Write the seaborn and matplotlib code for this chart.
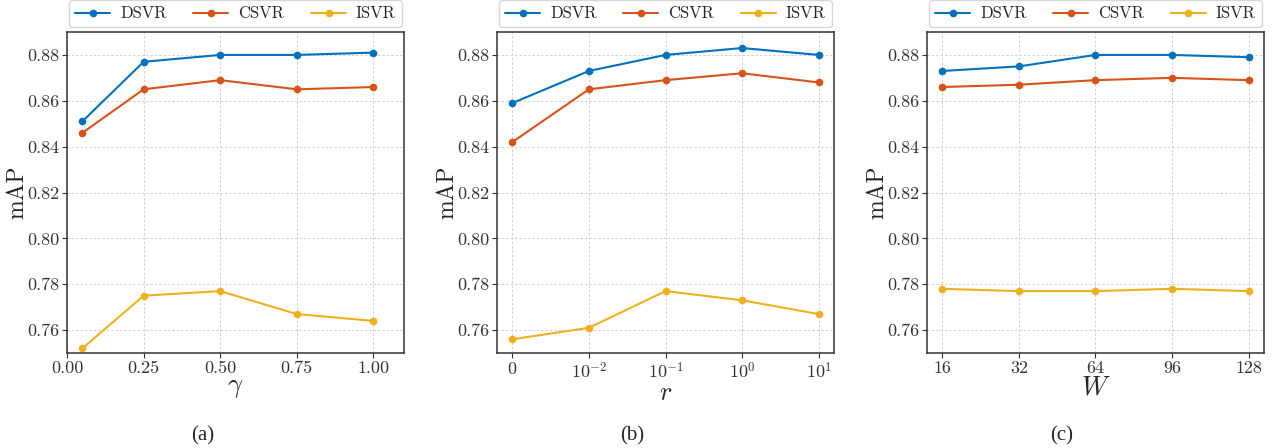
import numpy as np
import pandas as pd
import seaborn as sns
import matplotlib.pyplot as plt
from matplotlib.ticker import FormatStrFormatter

metodos = ["DSVR", "CSVR", "ISVR"]
cores = ["#0072BD", "#D95319", "#EDB120"]

# (a) gamma
gamma_x = [0.05, 0.25, 0.50, 0.75, 1.00]
gamma_dsvr = [0.851, 0.877, 0.880, 0.880, 0.881]
gamma_csvr = [0.846, 0.865, 0.869, 0.865, 0.866]
gamma_isvr = [0.752, 0.775, 0.777, 0.767, 0.764]

# (b) r
r_labels = ["$0$", "$10^{-2}$", "$10^{-1}$", "$10^{0}$", "$10^{1}$"]
r_dsvr = [0.859, 0.873, 0.880, 0.883, 0.880]
r_csvr = [0.842, 0.865, 0.869, 0.872, 0.868]
r_isvr = [0.756, 0.761, 0.777, 0.773, 0.767]

# (c) W
w_labels = ["16", "32", "64", "96", "128"]
w_dsvr = [0.873, 0.875, 0.880, 0.880, 0.879]
w_csvr = [0.866, 0.867, 0.869, 0.870, 0.869]
w_isvr = [0.778, 0.777, 0.777, 0.778, 0.777]

sns.set_style("ticks")
plt.rcParams["font.family"] = "serif"
plt.rcParams["font.serif"] = ["cmr10"]
plt.rcParams["mathtext.fontset"] = "cm"
plt.rcParams["axes.unicode_minus"] = False
plt.rcParams["axes.formatter.use_mathtext"] = True


def monta_df(x, dsvr, csvr, isvr):
    linhas = []
    for nome, vals in zip(metodos, [dsvr, csvr, isvr]):
        for xi, v in zip(x, vals):
            linhas.append({"x": xi, "mAP": v, "Método": nome})
    return pd.DataFrame(linhas)


df_a = monta_df(gamma_x, gamma_dsvr, gamma_csvr, gamma_isvr)
df_b = monta_df(np.arange(len(r_labels)), r_dsvr, r_csvr, r_isvr)
df_c = monta_df(np.arange(len(w_labels)), w_dsvr, w_csvr, w_isvr)

fig, axes = plt.subplots(1, 3, figsize=(12.72, 4.48), dpi=100)
plt.subplots_adjust(left=0.0527, right=0.9937, bottom=0.212, top=0.9286, wspace=0.276)

for ax, df, xlab in zip(axes, [df_a, df_b, df_c], [r"$\gamma$", r"$r$", r"$W$"]):
    sns.lineplot(data=df, x="x", y="mAP", hue="Método", palette=cores,
                 marker="o", markersize=5.5, markeredgewidth=0, linewidth=1.5,
                 ax=ax)
    ax.set_ylim(0.75, 0.89)
    ax.set_yticks(np.arange(0.76, 0.881, 0.02))
    ax.yaxis.set_major_formatter(FormatStrFormatter("%.2f"))
    ax.grid(True, linestyle=(0, (2.5, 2)), color="#d0d0d0", linewidth=0.7)
    ax.set_xlabel(xlab, fontsize=19, labelpad=0)
    ax.set_ylabel("mAP", fontsize=17)
    ax.yaxis.set_label_coords(-0.116, 0.5)
    ax.tick_params(labelsize=13, colors="#333333", pad=2, length=3.5)
    for s in ax.spines.values():
        s.set_color("#333333")
        s.set_linewidth(1.1)
    h, l = ax.get_legend_handles_labels()
    ax.legend(h, l, loc="lower center", bbox_to_anchor=(0.5, 1.015),
              ncol=3, fontsize=12, handlelength=2.1, handletextpad=0.6,
              columnspacing=1.6, borderpad=0.35,
              frameon=True, fancybox=True, borderaxespad=0, edgecolor="#cccccc")

axes[0].set_xlim(0, 1.1)
axes[0].set_xticks([0, 0.25, 0.5, 0.75, 1.0])
axes[0].xaxis.set_major_formatter(FormatStrFormatter("%.2f"))

axes[1].set_xticks(np.arange(len(r_labels)))
axes[1].set_xticklabels(r_labels)
axes[1].set_xlim(-0.2, 4.2)

axes[2].set_xticks(np.arange(len(w_labels)))
axes[2].set_xticklabels(w_labels)
axes[2].set_xlim(-0.2, 4.2)

for xpos, txt in zip([0.159, 0.497, 0.835], ["(a)", "(b)", "(c)"]):
    fig.text(xpos, 0.028, txt, ha="center", va="center", fontsize=15,
             family=["Liberation Serif"])

plt.savefig("out.png", dpi=100)
